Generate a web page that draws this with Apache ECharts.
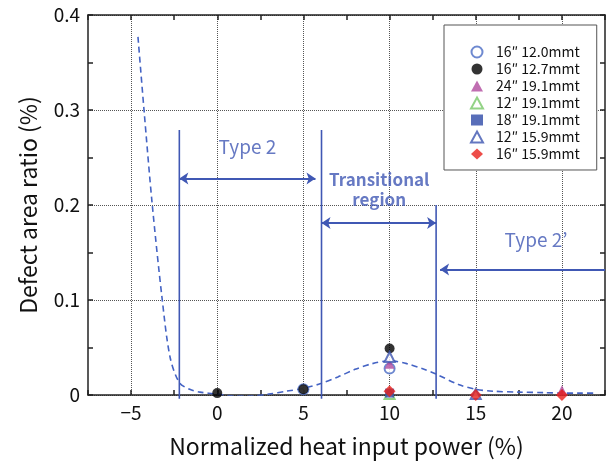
<!DOCTYPE html>
<html>
<head>
<meta charset="utf-8">
<script src="https://cdn.jsdelivr.net/npm/echarts@6/dist/echarts.min.js"></script>
<style>
  html, body { margin: 0; padding: 0; background: #fff; }
  #chart { width: 610px; height: 466px; }
</style>
</head>
<body>
<div id="chart"></div>
<script>
// marker series (legend order)
const seriesNames = ['16\u2033 12.0mmt', '16\u2033 12.7mmt', '24\u2033 19.1mmt', '12\u2033 19.1mmt', '18\u2033 19.1mmt', '12\u2033 15.9mmt', '16\u2033 15.9mmt'];
const s120 = [[5, 0.006], [10, 0.028]];
const s127 = [[0, 0.002], [5, 0.006], [10, 0.049]];
const s24_191 = [[10, 0.033], [20, 0.005]];
const s12_191 = [[10, 0.001]];
const s18_191 = [[10, 0.002]];
const s12_159 = [[10, 0.040], [15, 0.001]];
const s16_159 = [[10, 0.004], [15, 0], [20, 0]];

// fitted dashed curve
const curveX = [-4.6, -4.25, -3.77, -3.19, -2.74, -2.2, -1.6, -1.0, 0, 1, 2, 3, 4, 5, 6, 7, 8, 9, 10, 11, 12, 12.7, 14, 15, 16, 17.5, 19, 20, 21, 22];
const curveY = [0.377, 0.30, 0.20, 0.10, 0.04, 0.013, 0.006, 0.003, 0.001, -0.001, -0.001, 0.001, 0.004, 0.007, 0.012, 0.019, 0.027, 0.033, 0.036, 0.033, 0.027, 0.022, 0.011, 0.006, 0.004, 0.003, 0.0025, 0.002, 0.002, 0.002];

// region boundaries
const boundX = [-2.2, 6.05, 12.7];
const boundTop = [0.279, 0.279, 0.2];
const boundBottom = -0.004;

// arrows [x1, x2, y]
const arrowType2 = [-2.2, 5.7, 0.228];
const arrowTrans = [6.05, 12.7, 0.181];
const arrowType2p = [22.5, 12.93, 0.132];

// annotation texts
const notes = [
  { name: 'Type 2', value: [1.75, 0.261] },
  { name: 'Type 2\u2019', value: [18.5, 0.163] }
];
const noteTrans = [{ name: 'Transitional\nregion', value: [9.4, 0.216] }];

const xMajors = [-5, 0, 5, 10, 15, 20];

const FONT = '"Noto Sans CJK JP", "Noto Sans", sans-serif';
const BLUE = '#4058b4';

const chart = echarts.init(document.getElementById('chart'));

const tickAxis = {
  type: 'value', min: -7.5, max: 22.5, interval: 2.5,
  axisLine: { show: true, onZero: false, lineStyle: { color: '#222', width: 1.5 } },
  axisTick: { show: true, inside: true, length: 5, lineStyle: { color: '#222', width: 1.5 } },
  splitLine: { show: false }
};

const markerStyle = (name, symbol, color, data, size) => ({
  name, type: 'scatter', data, symbol, symbolSize: size || 10,
  itemStyle: { color, borderWidth: symbol.indexOf('empty') === 0 ? 1.3 : 0 },
  clip: false, z: 5
});

const option = {
  backgroundColor: '#fff',
  animation: false,
  textStyle: { fontFamily: FONT },
  grid: { left: 88, right: 5, top: 15, bottom: 71 },
  legend: {
    data: seriesNames,
    orient: 'vertical',
    left: 444, top: 25,
    padding: [20, 17, 9, 26],
    itemWidth: 12, itemHeight: 11, itemGap: 3,
    backgroundColor: '#fff',
    borderColor: '#555', borderWidth: 1,
    textStyle: { fontFamily: FONT, fontSize: 14, color: '#111', padding: [0, 0, 0, 8] },
    selectedMode: false,
    z: 10
  },
  xAxis: [
    Object.assign({}, tickAxis, {
      position: 'bottom',
      name: 'Normalized heat input power (%)',
      nameLocation: 'middle', nameGap: 40,
      nameTextStyle: { fontFamily: FONT, fontSize: 23, color: '#111' },
      axisLabel: {
        fontFamily: FONT, fontSize: 19, color: '#111', margin: 8,
        formatter: v => (v % 5 === 0 && v > -7.5 && v < 22.5) ? String(v).replace('-', '\u2212') : ''
      }
    }),
    Object.assign({}, tickAxis, { position: 'top', axisLabel: { show: false } }),
    {
      type: 'value', min: -7.5, max: 22.5, position: 'bottom',
      axisLine: { show: false, onZero: false },
      axisTick: { show: false, customValues: xMajors },
      axisLabel: { show: false, customValues: xMajors },
      splitLine: { show: true, lineStyle: { color: '#555', type: 'dotted', width: 1 } }
    }
  ],
  yAxis: [
    {
      type: 'value', min: 0, max: 0.4, interval: 0.1, position: 'left',
      name: 'Defect area ratio (%)',
      nameLocation: 'middle', nameGap: 48,
      nameTextStyle: { fontFamily: FONT, fontSize: 23, color: '#111' },
      axisLine: { show: true, onZero: false, lineStyle: { color: '#222', width: 1.5 } },
      axisTick: { show: true, inside: true, length: 5, lineStyle: { color: '#222', width: 1.5 } },
      minorTick: { show: true, splitNumber: 2, length: 5, lineStyle: { color: '#222', width: 1.5 } },
      axisLabel: {
        fontFamily: FONT, fontSize: 19, color: '#111', margin: 8,
        formatter: v => v === 0 ? '0' : v.toFixed(1)
      },
      splitLine: { show: true, lineStyle: { color: '#555', type: 'dotted', width: 1 } }
    },
    {
      type: 'value', min: 0, max: 0.4, interval: 0.1, position: 'right',
      axisLine: { show: true, onZero: false, lineStyle: { color: '#222', width: 1.5 } },
      axisTick: { show: true, inside: true, length: 5, lineStyle: { color: '#222', width: 1.5 } },
      minorTick: { show: true, splitNumber: 2, length: 5, lineStyle: { color: '#222', width: 1.5 } },
      axisLabel: { show: false },
      splitLine: { show: false }
    }
  ],
  series: [
    {
      name: 'curve', type: 'line', smooth: 0.3, symbol: 'none',
      data: curveX.map((x, i) => [x, curveY[i]]),
      lineStyle: { color: '#4463c4', width: 1.6, type: [6, 4] },
      z: 2
    },
    ...boundX.map((x, i) => ({
      name: 'bound' + i, type: 'line', symbol: 'none', clip: false,
      data: [[x, boundBottom], [x, boundTop[i]]],
      lineStyle: { color: BLUE, width: 1.6 },
      z: 3
    })),
    {
      name: 'arrows', type: 'line', data: [], z: 3,
      markLine: {
        silent: true, animation: false,
        symbolSize: [9, 9],
        label: { show: false },
        lineStyle: { color: BLUE, width: 1.8, type: 'solid' },
        data: [
          [{ coord: [arrowType2[0], arrowType2[2]], symbol: 'arrow' }, { coord: [arrowType2[1], arrowType2[2]], symbol: 'arrow' }],
          [{ coord: [arrowTrans[0], arrowTrans[2]], symbol: 'arrow' }, { coord: [arrowTrans[1], arrowTrans[2]], symbol: 'arrow' }],
          [{ coord: [arrowType2p[0], arrowType2p[2]], symbol: 'none' }, { coord: [arrowType2p[1], arrowType2p[2]], symbol: 'arrow' }]
        ]
      }
    },
    {
      name: 'notes', type: 'scatter', symbolSize: 0, silent: true, z: 4,
      data: notes,
      label: {
        show: true, position: 'inside', color: BLUE,
        fontFamily: FONT, fontSize: 19,
        formatter: p => p.name
      }
    },
    {
      name: 'noteTrans', type: 'scatter', symbolSize: 0, silent: true, z: 4,
      data: noteTrans,
      label: {
        show: true, position: 'inside', color: BLUE,
        fontFamily: FONT, fontSize: 17, fontWeight: 'bold', lineHeight: 20,
        formatter: p => p.name
      }
    },
    markerStyle(seriesNames[0], 'emptyCircle', '#4a6cc4', s120),
    markerStyle(seriesNames[1], 'circle', '#000000', s127),
    markerStyle(seriesNames[2], 'triangle', '#b04a9e', s24_191),
    markerStyle(seriesNames[3], 'emptyTriangle', '#78c868', s12_191),
    markerStyle(seriesNames[4], 'rect', '#2e4aa8', s18_191, 9),
    markerStyle(seriesNames[5], 'emptyTriangle', '#3d55b0', s12_159),
    markerStyle(seriesNames[6], 'diamond', '#e8201c', s16_159, 12)
  ]
};

chart.setOption(option);
</script>
</body>
</html>
